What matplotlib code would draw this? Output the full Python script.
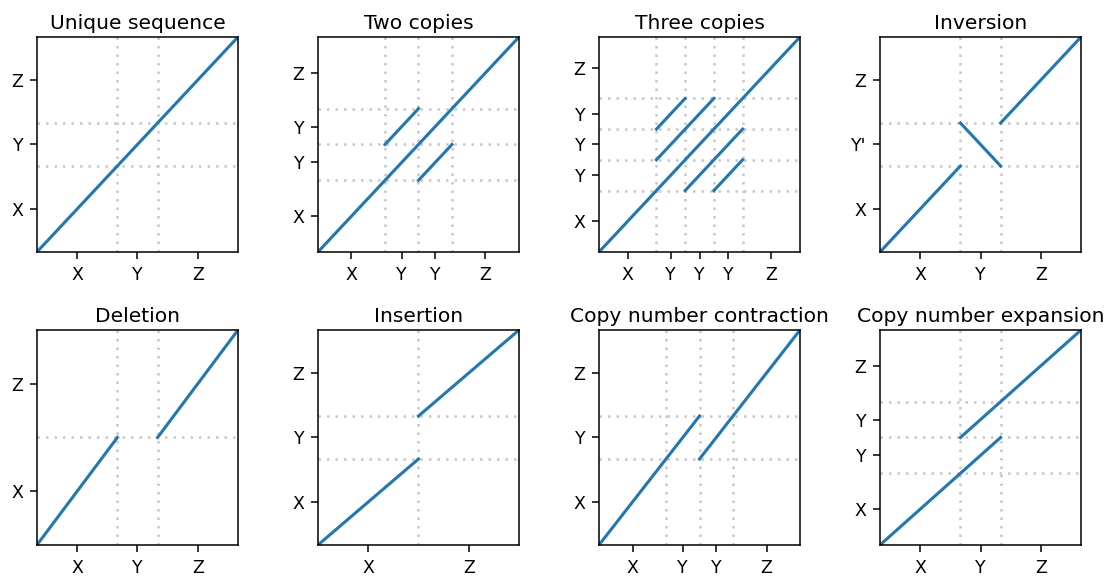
import matplotlib
matplotlib.use('Agg')
import matplotlib.pyplot as plt
import numpy as np

# segment names and lengths on each axis
titles = ['Unique sequence', 'Two copies', 'Three copies', 'Inversion',
          'Deletion', 'Insertion', 'Copy number contraction', 'Copy number expansion']

x_names = [['X', 'Y', 'Z'], ['X', 'Y', 'Y', 'Z'], ['X', 'Y', 'Y', 'Y', 'Z'], ['X', 'Y', 'Z'],
           ['X', 'Y', 'Z'], ['X', 'Z'], ['X', 'Y', 'Y', 'Z'], ['X', 'Y', 'Z']]
x_lens = [[40, 20, 40], [40, 20, 20, 40], [40, 20, 20, 20, 40], [40, 20, 40],
          [40, 20, 40], [40, 40], [40, 20, 20, 40], [40, 20, 40]]
y_names = [['X', 'Y', 'Z'], ['X', 'Y', 'Y', 'Z'], ['X', 'Y', 'Y', 'Y', 'Z'], ['X', "Y'", 'Z'],
           ['X', 'Z'], ['X', 'Y', 'Z'], ['X', 'Y', 'Z'], ['X', 'Y', 'Y', 'Z']]
y_lens = [[40, 20, 40], [40, 20, 20, 40], [40, 20, 20, 20, 40], [40, 20, 40],
          [40, 40], [40, 20, 40], [40, 20, 40], [40, 20, 20, 40]]

# alignments: (x start, x end, y start, y end)
aligns = [
    [(0, 100, 0, 100)],
    [(0, 120, 0, 120), (40, 60, 60, 80), (60, 80, 40, 60)],
    [(0, 140, 0, 140), (40, 60, 80, 100), (40, 80, 60, 100), (60, 100, 40, 80), (80, 100, 40, 60)],
    [(0, 40, 0, 40), (40, 60, 60, 40), (60, 100, 60, 100)],
    [(0, 40, 0, 40), (60, 100, 40, 80)],
    [(0, 40, 0, 40), (40, 80, 60, 100)],
    [(0, 60, 0, 60), (60, 120, 40, 100)],
    [(0, 60, 0, 60), (40, 100, 60, 120)],
]

fig, axes = plt.subplots(2, 4, figsize=(11.1, 5.77), dpi=100)
fig.subplots_adjust(left=0.0333, right=0.9739, top=0.9359, bottom=0.0555, wspace=0.398, hspace=0.363)

for i, ax in enumerate(axes.flat):
    xe = np.cumsum([0] + x_lens[i])
    ye = np.cumsum([0] + y_lens[i])
    for b in xe[1:-1]:
        ax.axvline(b, color='#c8c8c8', ls=(0, (1, 2.4)), lw=1.8, zorder=1)
    for b in ye[1:-1]:
        ax.axhline(b, color='#c8c8c8', ls=(0, (1, 2.4)), lw=1.8, zorder=1)
    for x0, x1, y0, y1 in aligns[i]:
        ax.plot([x0, x1], [y0, y1], color='tab:blue', lw=2.2, zorder=2)
    ax.set_xlim(0, xe[-1])
    ax.set_ylim(0, ye[-1])
    ax.set_xticks((xe[:-1] + xe[1:]) / 2)
    ax.set_xticklabels(x_names[i])
    ax.set_yticks((ye[:-1] + ye[1:]) / 2)
    ax.set_yticklabels(y_names[i])
    ax.tick_params(labelsize=12.5, length=5, width=1.1, pad=4.8)
    for s in ax.spines.values():
        s.set_linewidth(1.1)
    ax.set_title(titles[i], fontsize=14.6)

fig.savefig('out.png')
